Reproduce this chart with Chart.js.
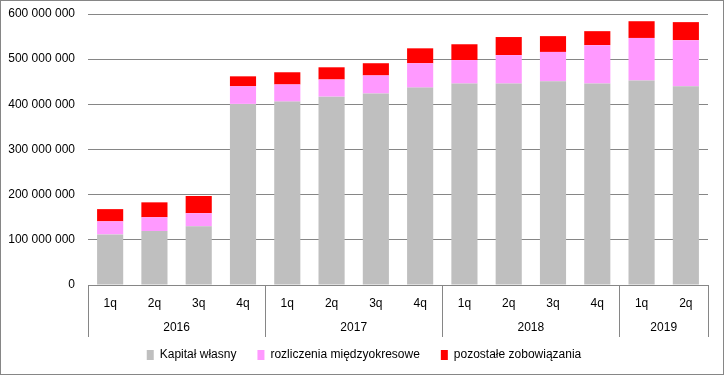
<!DOCTYPE html>
<html>
<head>
<meta charset="utf-8">
<script src="https://cdn.jsdelivr.net/npm/chart.js@4"></script>
<style>
html,body{margin:0;padding:0;background:#fff;}
#wrap{width:724px;height:375px;position:relative;}
</style>
</head>
<body>
<div id="wrap"><canvas id="c" width="724" height="375"></canvas></div>
<script>
const quarters = ['1q','2q','3q','4q','1q','2q','3q','4q','1q','2q','3q','4q','1q','2q'];
const years = ['2016','2017','2018','2019'];
const yearSpans = [4, 4, 4, 2];
const yTicks = [0, 100000000, 200000000, 300000000, 400000000, 500000000, 600000000];
const kapital = [112000000,119500000,130000000,401000000,406000000,417000000,424000000,437000000,446000000,446000000,451000000,446000000,453000000,440000000];
const rozliczenia = [29000000,30500000,29000000,39000000,38000000,38000000,40000000,54000000,52000000,63000000,65000000,85000000,94000000,102000000];
const pozostale = [27000000,33000000,38000000,22000000,27000000,27000000,27000000,33000000,35000000,40000000,35000000,31000000,37000000,40000000];
const seriesNames = ['Kapitał własny','rozliczenia międzyokresowe','pozostałe zobowiązania'];

const FONT = "'Liberation Sans', Arial, sans-serif";
const AXIS = '#868686';

const fmt = v => String(v).replace(/\B(?=(\d{3})+(?!\d))/g, ' ');

const yearPlugin = {
  id: 'years',
  afterLayout(chart) {
    if (chart.legend) { chart.legend.left += 10; chart.legend.right += 10; }
  },
  afterDraw(chart) {
    const ctx = chart.ctx;
    const xs = chart.scales.x;
    const n = quarters.length;
    const step = (xs.right - xs.left) / n;
    const top = xs.top;
    const bottom = top + 52;
    ctx.save();
    ctx.strokeStyle = AXIS;
    ctx.lineWidth = 1;
    let idx = 0;
    const bounds = [xs.left];
    yearSpans.forEach(s => { idx += s; bounds.push(xs.left + idx * step); });
    bounds.forEach(b => {
      const x = Math.round(b) + 0.5;
      ctx.beginPath(); ctx.moveTo(x, top); ctx.lineTo(x, bottom); ctx.stroke();
    });
    ctx.fillStyle = '#000';
    ctx.font = '12px ' + FONT;
    ctx.textAlign = 'center';
    ctx.textBaseline = 'middle';
    years.forEach((y, i) => {
      ctx.fillText(y, (bounds[i] + bounds[i+1]) / 2, top + 43);
    });
    ctx.strokeStyle = AXIS;
    ctx.strokeRect(0.5, 0.5, chart.width - 1, chart.height - 1);
    ctx.restore();
  }
};

new Chart(document.getElementById('c'), {
  type: 'bar',
  data: {
    labels: quarters,
    datasets: [
      {label: seriesNames[0], data: kapital, backgroundColor: '#BFBFBF'},
      {label: seriesNames[1], data: rozliczenia, backgroundColor: '#FF99FF'},
      {label: seriesNames[2], data: pozostale, backgroundColor: '#FF0000'}
    ]
  },
  options: {
    responsive: false,
    animation: false,
    devicePixelRatio: 1,
    layout: {padding: {top: 14, right: 16, left: 0, bottom: 4}},
    datasets: {bar: {categoryPercentage: 1, barPercentage: 0.59}},
    plugins: {
      legend: {
        position: 'bottom',
        labels: {
          font: {family: FONT, size: 12},
          color: '#000',
          boxWidth: 7,
          boxHeight: 10,
          padding: 21
        }
      },
      tooltip: {enabled: false}
    },
    scales: {
      x: {
        stacked: true,
        grid: {display: false, drawTicks: false},
        border: {display: true, color: AXIS, width: 1},
        ticks: {font: {family: FONT, size: 12}, color: '#000', padding: 11, maxRotation: 0},
        afterFit(s) { s.height = 43; }
      },
      y: {
        stacked: true,
        min: 0, max: 600000000,
        afterBuildTicks(s) { s.ticks = yTicks.map(v => ({value: v})); },
        grid: {color: AXIS, drawTicks: false},
        border: {display: false},
        ticks: {font: {family: FONT, size: 12}, color: '#000', padding: 13, callback: v => fmt(v)},
        afterFit(s) { s.width = 88; s.paddingTop = 0; s.paddingBottom = 0; }
      }
    }
  },
  plugins: [yearPlugin]
});
</script>
</body>
</html>
